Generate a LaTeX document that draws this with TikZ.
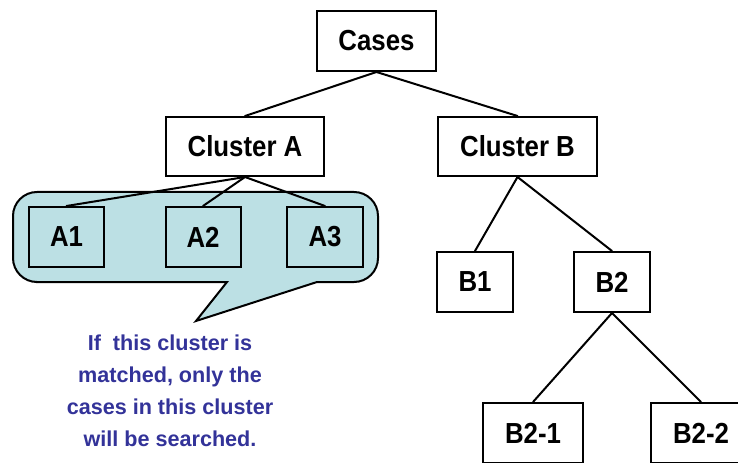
\documentclass[tikz,border=0pt]{standalone}
\usepackage{fontspec}
\usepackage{xcolor}
\usepackage{tikz}
\setmainfont{Liberation Sans}
\newfontfamily\narrowfont{Liberation Sans}[FakeStretch=0.89]
\definecolor{bg}{HTML}{FFFFFF}
\definecolor{line}{HTML}{000000}
\definecolor{bubble}{HTML}{BCE0E4}
\definecolor{note}{HTML}{333399}
\tikzset{
  link/.style={draw=line, line width=1.5pt, line cap=round},
  box/.style={draw=line, fill=bg, line width=1.5pt, inner sep=0pt,
    font=\narrowfont\bfseries\fontsize{21.75}{26}\selectfont},
  boxa/.style={box, fill=none},
  callout/.style={draw=line, fill=bubble, line width=1.5pt, line join=miter},
  notelab/.style={text=note, align=center, inner sep=0pt,
    font=\bfseries\fontsize{16.2}{24}\selectfont}
}
\begin{document}
\begin{tikzpicture}[x=0.75pt,y=-0.75pt]
  \clip (0,0) rectangle (738,463);
  \fill[bg] (0,0) rectangle (738,463);

  % callout round the first cluster
  \draw[callout] (317,282) [rounded corners=18pt] -- (378,282) -- (378,192)
    -- (13,192) -- (13,282) -- (60,282) [sharp corners] -- (227,282)
    -- (196,321) -- cycle;
  \node[notelab] (note) at (170,391)
    {If\ \ this cluster is\\matched, only the\\cases in this cluster\\will be searched.};

  % tree
  \node[box, minimum width=89.25pt, minimum height=45pt] (cases) at (376.5,41) {Cases};
  \node[box, minimum width=118.5pt, minimum height=44.25pt] (ca) at (245,146.5) {Cluster A};
  \node[box, minimum width=119.25pt, minimum height=44.25pt] (cb) at (517.5,146.5) {Cluster B};
  \node[boxa, minimum width=56.25pt, minimum height=45pt] (a1) at (66.5,237) {A1};
  \node[boxa, minimum width=56.25pt, minimum height=45pt] (a2) at (203,237) {A2};
  \node[boxa, minimum width=57pt, minimum height=45pt] (a3) at (325,237) {A3};
  \node[box, minimum width=57pt, minimum height=45pt] (b1) at (475,282) {B1};
  \node[box, minimum width=57pt, minimum height=45pt] (b2) at (612,282) {B2};
  \node[box, minimum width=75pt, minimum height=45pt] (b21) at (533,433) {B2-1};
  \node[box, minimum width=75pt, minimum height=45pt] (b22) at (701,433) {B2-2};

  \draw[link] (cases.south) -- (ca.north);
  \draw[link] (cases.south) -- (cb.north);
  \draw[link] (ca.south) -- (a1.north);
  \draw[link] (ca.south) -- (a2.north);
  \draw[link] (ca.south) -- (a3.north);
  \draw[link] (cb.south) -- (b1.north);
  \draw[link] (cb.south) -- (b2.north);
  \draw[link] (b2.south) -- (b21.north);
  \draw[link] (b2.south) -- (b22.north);
\end{tikzpicture}
\end{document}
